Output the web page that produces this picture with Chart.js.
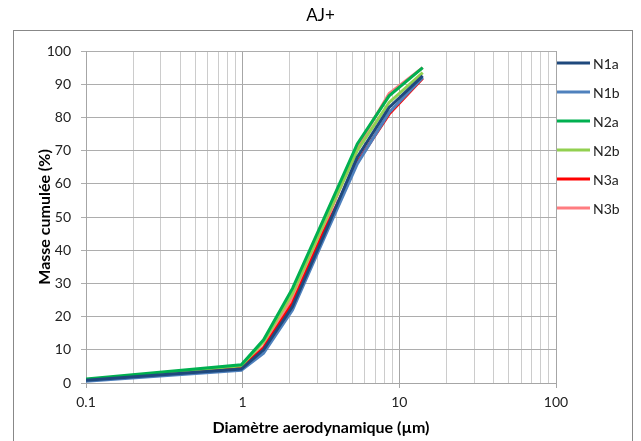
<!DOCTYPE html>
<html>
<head>
<meta charset="utf-8">
<script src="https://cdn.jsdelivr.net/npm/chart.js@4"></script>
<style>
  html, body { margin: 0; padding: 0; background: #fff; }
  #wrap { width: 641px; height: 441px; }
</style>
</head>
<body>
<div id="wrap"><canvas id="aj_chart" width="641" height="441"></canvas></div>
<script>
// cut-off diameters (µm) and cumulative mass (%)
const diameters = [0.1, 0.98, 1.36, 2.08, 3.30, 5.39, 8.61, 14.1];
const n1a = [0.8, 4.2, 10.0, 23.0, 44.5, 68.0, 83.0, 92.5];
const n1b = [0.5, 3.8, 9.0, 22.0, 43.5, 66.0, 81.5, 92.0];
const n2a = [1.2, 5.5, 13.0, 28.5, 49.5, 72.0, 86.5, 95.0];
const n2b = [1.0, 5.2, 12.5, 27.0, 48.0, 70.0, 84.5, 93.5];
const n3a = [0.8, 4.5, 10.5, 24.0, 45.5, 66.5, 81.0, 91.8];
const n3b = [0.9, 4.8, 11.0, 25.5, 47.0, 71.0, 87.2, 95.0];
const series_names = ['N1a', 'N1b', 'N2a', 'N2b', 'N3a', 'N3b'];
const series_values = [n1a, n1b, n2a, n2b, n3a, n3b];
const colours = ['#1f497d', '#4f81bd', '#00b050', '#92d050', '#ff0000', '#ff7c80'];
const x_ticks = [0.1, 1, 10, 100];

const fontFamily = "Lato, 'Open Sans', sans-serif";

function isMajor(v) {
    const l = Math.log10(v);
    return Math.abs(l - Math.round(l)) < 1e-9;
}

// all 1..9 x 10^n positions between 0.1 and 100 (minor grid)
const gridValues = [];
for (let d = 0; d < x_ticks.length - 1; d++) {
    for (let m = 1; m < 10; m++) {
        gridValues.push(x_ticks[d] * m);
    }
}
gridValues.push(x_ticks[x_ticks.length - 1]);

const datasets = [];
for (let i = 0; i < series_names.length; i++) {
    datasets.push({
        label: series_names[i],
        data: diameters.map((d, j) => ({ x: d, y: series_values[i][j] })),
        borderColor: colours[i],
        backgroundColor: colours[i],
        borderWidth: 3,
        pointRadius: 0,
        tension: 0
    });
}

// frame round the chart, like the spreadsheet chart border
const framePlugin = {
    id: 'frame',
    beforeDraw(chart) {
        const ctx = chart.ctx;
        ctx.save();
        ctx.fillStyle = '#ffffff';
        ctx.fillRect(0, 0, chart.width, chart.height);
        ctx.strokeStyle = '#888888';
        ctx.lineWidth = 1;
        ctx.strokeRect(13.5, 30.5, 619, 430);
        ctx.restore();
    }
};

// legend drawn tight against the plot, one row every 29px
const sideLegend = {
    id: 'sideLegend',
    afterDraw(chart) {
        const ctx = chart.ctx;
        const x0 = chart.chartArea.right + 1;
        ctx.save();
        ctx.font = '14px ' + fontFamily;
        ctx.textAlign = 'left';
        ctx.textBaseline = 'middle';
        chart.data.datasets.forEach((ds, i) => {
            const y = 63 + i * 29;
            ctx.strokeStyle = ds.borderColor;
            ctx.lineWidth = 3;
            ctx.beginPath();
            ctx.moveTo(x0, y);
            ctx.lineTo(x0 + 33, y);
            ctx.stroke();
            ctx.fillStyle = '#222';
            ctx.fillText(ds.label, x0 + 36, y + 1);
        });
        ctx.restore();
    }
};

const canvas = document.getElementById('aj_chart');
new Chart(canvas, {
    type: 'line',
    data: { datasets: datasets },
    plugins: [framePlugin, sideLegend],
    options: {
        responsive: false,
        animation: false,
        layout: { padding: 0 },
        plugins: {
            title: {
                display: true,
                text: 'AJ+',
                color: '#000',
                font: { family: fontFamily, size: 17, weight: 'normal' },
                padding: { top: 5, bottom: 25.6 }
            },
            legend: { display: false },
            tooltip: { enabled: false }
        },
        scales: {
            x: {
                type: 'logarithmic',
                min: 0.1,
                max: 100,
                afterBuildTicks: (scale) => {
                    scale.ticks = gridValues.map(v => ({ value: v }));
                },
                afterFit: (scale) => { scale.height = 58; },
                ticks: {
                    autoSkip: false,
                    maxRotation: 0,
                    padding: 6,
                    color: '#222',
                    font: { family: fontFamily, size: 14 },
                    callback: (value) => isMajor(value) ? String(Number(value.toPrecision(3))) : ''
                },
                grid: {
                    color: (c) => c.tick && isMajor(c.tick.value) ? '#a6a6a6' : '#cccccc',
                    tickColor: (c) => c.tick && isMajor(c.tick.value) ? '#a6a6a6' : 'rgba(0,0,0,0)',
                    tickLength: 5
                },
                border: { color: '#a6a6a6' },
                title: {
                    display: true,
                    text: 'Diamètre aerodynamique (µm)',
                    color: '#000',
                    font: { family: fontFamily, size: 16, weight: 'bold' },
                    padding: { top: 0, bottom: 4 }
                }
            },
            y: {
                min: 0,
                max: 100,
                afterFit: (scale) => { scale.width = 86; },
                ticks: {
                    stepSize: 10,
                    padding: 10,
                    color: '#222',
                    font: { family: fontFamily, size: 14 }
                },
                grid: { color: '#adadad', tickLength: 5 },
                border: { color: '#a6a6a6' },
                title: {
                    display: true,
                    text: 'Masse cumulée (%)',
                    color: '#000',
                    font: { family: fontFamily, size: 16, weight: 'bold' },
                    padding: { top: 35.4, bottom: 0 }
                }
            },
            // empty right-hand strip that holds the legend
            legendSpace: {
                position: 'right',
                min: 0,
                max: 100,
                afterFit: (scale) => { scale.width = 85; },
                ticks: { display: false },
                grid: { display: false, drawOnChartArea: false },
                border: { display: false }
            }
        }
    }
});
</script>
</body>
</html>
